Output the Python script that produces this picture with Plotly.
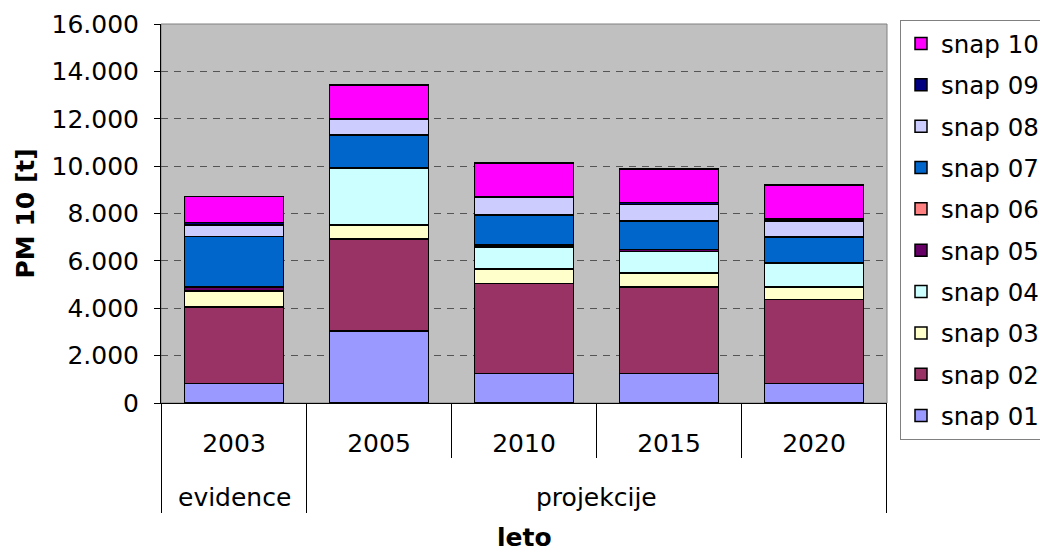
import plotly.graph_objects as go

years = ["2003", "2005", "2010", "2015", "2020"]
groups = ["evidence", "projekcije"]
group_of_year = [0, 1, 1, 1, 1]

snap01 = [830, 3030, 1250, 1250, 830]
snap02 = [3220, 3890, 3790, 3650, 3530]
snap03 = [680, 590, 620, 590, 530]
snap04 = [0, 2380, 930, 900, 1020]
snap05 = [170, 50, 80, 100, 0]
snap06 = [0, 0, 0, 0, 0]
snap07 = [2120, 1380, 1260, 1200, 1100]
snap08 = [495, 665, 775, 700, 680]
snap09 = [100, 0, 0, 80, 80]
snap10 = [1100, 1450, 1420, 1400, 1440]

series = [
    ("snap 01", snap01, "#9999FF"),
    ("snap 02", snap02, "#993366"),
    ("snap 03", snap03, "#FFFFCC"),
    ("snap 04", snap04, "#CCFFFF"),
    ("snap 05", snap05, "#660066"),
    ("snap 06", snap06, "#FF8080"),
    ("snap 07", snap07, "#0066CC"),
    ("snap 08", snap08, "#CCCCFF"),
    ("snap 09", snap09, "#000080"),
    ("snap 10", snap10, "#FF00FF"),
]

FONT = "DejaVu Sans"
FS = 25

fig = go.Figure()
for k, (name, vals, col) in enumerate(series):
    fig.add_trace(go.Bar(
        x=years, y=vals, name=name, legendgroup=name,
        legendrank=len(series) - k,
        marker=dict(color=col, line=dict(color="black", width=1.5)),
    ))

# page has an 8px body margin; figure coordinates = screen - 8
OFF = 8
W, H = 1048 - OFF, 552 - OFF
L, T = 161 - OFF, 24 - OFF
pw, ph = 726, 379
R, B = W - L - pw, H - T - ph

shapes = []
n = len(years)
for i in range(n + 1):
    xpos = i - 0.5
    is_group_edge = (i == 0 or i == n or group_of_year[i] != group_of_year[i - 1])
    depth = (513 - 403) if is_group_edge else (458 - 403)
    shapes.append(dict(type="line", xref="x", yref="paper", x0=xpos, x1=xpos,
                       y0=0, y1=-depth / ph, line=dict(color="black", width=1)))
shapes.append(dict(type="rect", xref="paper", yref="paper", x0=0, x1=1, y0=0, y1=1,
                   line=dict(color="#808080", width=1), layer="below"))

annotations = []
for g_idx, g in enumerate(groups):
    idx = [i for i, gi in enumerate(group_of_year) if gi == g_idx]
    center = sum(idx) / len(idx)
    annotations.append(dict(text=g, xref="x", yref="paper", x=center,
                            y=-(497 - 403) / ph, yanchor="middle", showarrow=False,
                            font=dict(family=FONT, size=FS, color="black")))
annotations.append(dict(text="<b>leto</b>", xref="paper", yref="paper", x=0.5,
                        y=-(537 - 403) / ph, yanchor="middle", showarrow=False,
                        font=dict(family=FONT, size=FS, color="black")))
annotations.append(dict(text="<b>PM 10 [t]</b>", xref="paper", yref="paper",
                        x=-(161 - 25) / pw, y=0.5, xanchor="center", yanchor="middle",
                        textangle=-90, showarrow=False,
                        font=dict(family=FONT, size=FS, color="black")))

fig.update_layout(
    width=W, height=H,
    margin=dict(l=L, r=R, t=T, b=B, pad=0, autoexpand=False),
    barmode="stack", bargap=0.32,
    plot_bgcolor="#C0C0C0", paper_bgcolor="white",
    separators=",.",
    font=dict(family=FONT, size=FS, color="black"),
    showlegend=True,
    legend=dict(
        x=(900 - 161) / pw, xanchor="left", y=1 + 4 / ph, yanchor="top",
        traceorder="grouped", tracegroupgap=6.5, maxheight=500,
        bordercolor="#808080", borderwidth=1, bgcolor="white",
        font=dict(family=FONT, size=24.5, color="black"),
    ),
    shapes=shapes, annotations=annotations,
    xaxis=dict(type="category", showline=True, linecolor="black", linewidth=1,
               ticks="", ticklabelstandoff=18, showgrid=False,
               tickfont=dict(family=FONT, size=FS, color="black")),
    yaxis=dict(range=[0, 16000], dtick=2000, tickformat=",d",
               showline=True, linecolor="black", linewidth=1,
               ticks="outside", ticklen=6, tickcolor="black", ticklabelstandoff=10,
               showgrid=True, gridcolor="#555555", gridwidth=1, griddash="7px,6px",
               zeroline=False,
               tickfont=dict(family=FONT, size=FS, color="black")),
)

fig.write_html("out.html")
